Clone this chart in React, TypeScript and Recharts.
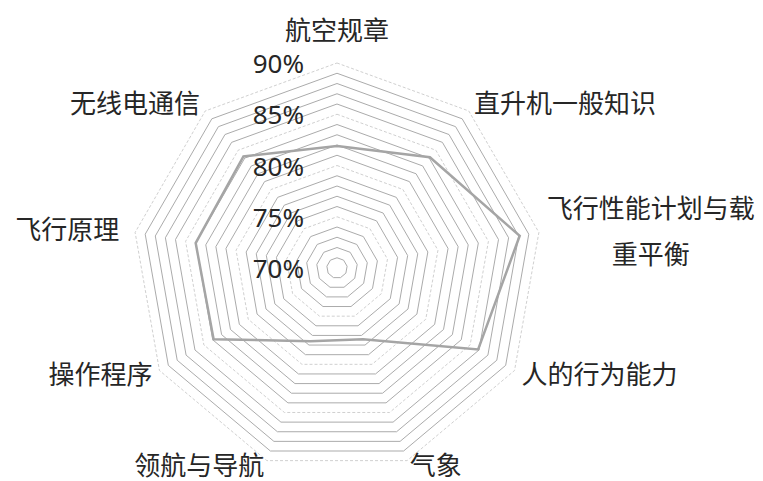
import React from 'react'
import { RadarChart, Radar, PolarGrid, PolarAngleAxis, PolarRadiusAxis } from 'recharts'

// subjects, clockwise from the top
const subjects = [
  '航空规章',
  '直升机一般知识',
  '飞行性能计划与载重平衡',
  '人的行为能力',
  '气象',
  '领航与导航',
  '操作程序',
  '飞行原理',
  '无线电通信',
]

// pass rate (%)
const scores = [81.9, 84.1, 88.1, 85.9, 77.4, 77.6, 83.9, 84.0, 84.2]

const domain = [70, 90]
const majorTicks = [70, 75, 80, 85, 90]
const minorTicks = [71, 72, 73, 74, 76, 77, 78, 79, 81, 82, 83, 84, 86, 87, 88, 89]

const rows = subjects.map((subject, i) => ({ subject, score: scores[i] }))

const OUTER = 205
const toRadius = (v: number) => (OUTER * (v - domain[0])) / (domain[1] - domain[0])

const FONT = '"Noto Sans", "Noto Sans CJK SC", sans-serif'
const FS = 26
const TEXT = '#262626'

const AngleTick = (props: any) => {
  const { x, y, payload } = props
  const rad = (payload.coordinate * Math.PI) / 180
  const cos = Math.cos(rad)
  const sin = Math.sin(rad)
  const label: string = String(payload.value)

  if (Math.abs(cos) < 0.01) {
    return (
      <text x={x} y={sin > 0 ? y - 25 : y + 25} textAnchor="middle" dominantBaseline="central"
        fontFamily={FONT} fontSize={FS} fill={TEXT}>
        {label}
      </text>
    )
  }

  if (label.length > 8) {
    // wrap long names onto two centred lines
    const lines = [label.slice(0, 8), label.slice(8)]
    const mid = cos > 0 ? x + (8 * FS) / 2 : x - (8 * FS) / 2
    return (
      <text textAnchor="middle" fontFamily={FONT} fontSize={FS} fill={TEXT} dominantBaseline="central">
        <tspan x={mid} y={y - 23}>{lines[0]}</tspan>
        <tspan x={mid} y={y + 23}>{lines[1]}</tspan>
      </text>
    )
  }

  const dx = cos < -0.9 ? -8 : 0
  const dy = sin < -0.9 ? -3 : sin < 0 ? -0.5 : -2
  return (
    <text x={x + dx} y={y + dy} textAnchor={cos > 0 ? 'start' : 'end'} dominantBaseline="central"
      fontFamily={FONT} fontSize={FS} fill={TEXT}>
      {label}
    </text>
  )
}

const PctTick = (props: any) => {
  const { x, y, payload } = props
  return (
    <text x={x - 33} y={y} textAnchor="end" dominantBaseline="central"
      fontFamily={FONT} fontSize={FS} fill={TEXT}>
      {payload.value}%
    </text>
  )
}

const App: React.FC = () => {
  return (
    <div style={{ width: 755, height: 473, background: '#fff' }}>
      <RadarChart width={755} height={473} cx={329} cy={260} outerRadius={OUTER} data={rows}
        startAngle={90} endAngle={-270} style={{ overflow: 'visible' }}>
        <PolarGrid gridType="polygon" radialLines={false} polarRadius={minorTicks.map(toRadius)}
          stroke="#ababab" strokeWidth={1} />
        <PolarGrid gridType="polygon" radialLines={false} polarRadius={majorTicks.map(toRadius)}
          stroke="#d0d0d0" strokeWidth={1} strokeDasharray="3 2" />
        <PolarAngleAxis dataKey="subject" tick={<AngleTick />} axisLine={false} tickLine={false} />
        <PolarRadiusAxis angle={90} domain={domain} ticks={majorTicks} tick={PctTick}
          axisLine={false} tickLine={false} orientation="left" />
        <Radar dataKey="score" stroke="#a5a5a5" strokeWidth={2.5} fill="none"
          fillOpacity={0} dot={false} isAnimationActive={false} />
      </RadarChart>
    </div>
  )
}

export default App
